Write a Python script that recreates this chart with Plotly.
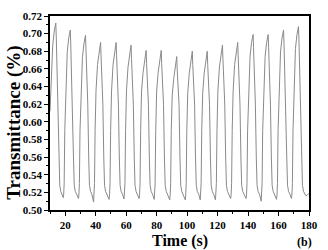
import plotly.graph_objects as go

# Time (s) and transmittance values, one row per cycle
time_s = [
    10.0, 10.5, 11.8, 12.8,
    13.8, 14.1, 15.3, 15.9, 16.4, 17.1, 18.0, 18.7, 19.0, 19.3, 19.7, 20.3, 21.3, 22.3,
    23.3, 23.6, 24.8, 25.4, 25.9, 26.6, 27.5, 28.7, 29.0, 29.3, 29.7, 30.3, 31.3, 32.3,
    33.3, 33.6, 34.8, 35.4, 35.9, 36.6, 37.5, 38.6, 38.9, 39.2, 39.6, 40.2, 41.2, 42.2,
    43.2, 43.5, 44.7, 45.3, 45.8, 46.5, 47.4, 48.8, 49.1, 49.4, 49.8, 50.4, 51.4, 52.4,
    53.4, 53.7, 54.9, 55.5, 56.0, 56.7, 57.6, 58.6, 58.9, 59.2, 59.6, 60.2, 61.2, 62.2,
    63.2, 63.5, 64.7, 65.3, 65.8, 66.5, 67.4, 68.5, 68.8, 69.1, 69.5, 70.1, 71.1, 72.1,
    73.1, 73.4, 74.6, 75.2, 75.7, 76.4, 77.3, 78.4, 78.7, 79.0, 79.4, 80.0, 81.0, 82.0,
    83.0, 83.3, 84.5, 85.1, 85.6, 86.3, 87.2, 88.6, 88.9, 89.2, 89.6, 90.2, 91.2, 92.2,
    93.2, 93.5, 94.7, 95.3, 95.8, 96.5, 97.4, 98.8, 99.1, 99.4, 99.8, 100.4, 101.4, 102.4,
    103.4, 103.7, 104.9, 105.5, 106.0, 106.7, 107.6, 108.6, 108.9, 109.2, 109.6, 110.2, 111.2, 112.2,
    113.2, 113.5, 114.7, 115.3, 115.8, 116.5, 117.4, 118.6, 118.9, 119.2, 119.6, 120.2, 121.2, 122.2,
    123.2, 123.5, 124.7, 125.3, 125.8, 126.5, 127.4, 128.6, 128.9, 129.2, 129.6, 130.2, 131.2, 132.2,
    133.2, 133.5, 134.7, 135.3, 135.8, 136.5, 137.4, 138.7, 139.0, 139.3, 139.7, 140.3, 141.3, 142.3,
    143.3, 143.6, 144.8, 145.4, 145.9, 146.6, 147.5, 148.6, 148.9, 149.2, 149.6, 150.2, 151.2, 152.2,
    153.2, 153.5, 154.7, 155.3, 155.8, 156.5, 157.4, 158.7, 159.0, 159.3, 159.7, 160.3, 161.3, 162.3,
    163.3, 163.6, 164.8, 165.4, 165.9, 166.6, 167.5, 168.5, 168.8, 169.1, 169.5, 170.1, 171.1, 172.1,
    173.1, 173.4, 174.6, 175.2, 175.7, 176.4, 177.3, 178.0, 179.0, 180.0,
]
transmittance = [
    0.612, 0.635, 0.687, 0.703,
    0.712, 0.697, 0.620, 0.560, 0.528, 0.521, 0.518, 0.514, 0.518, 0.530, 0.590, 0.635, 0.679, 0.695,
    0.704, 0.689, 0.620, 0.560, 0.528, 0.521, 0.518, 0.513, 0.518, 0.530, 0.590, 0.635, 0.673, 0.689,
    0.698, 0.683, 0.620, 0.560, 0.528, 0.521, 0.518, 0.509, 0.518, 0.530, 0.590, 0.635, 0.665, 0.681,
    0.690, 0.675, 0.620, 0.560, 0.528, 0.521, 0.518, 0.512, 0.518, 0.530, 0.590, 0.635, 0.665, 0.681,
    0.690, 0.675, 0.620, 0.560, 0.528, 0.521, 0.518, 0.5125, 0.518, 0.530, 0.590, 0.635, 0.662, 0.678,
    0.687, 0.672, 0.620, 0.560, 0.528, 0.521, 0.518, 0.513, 0.518, 0.530, 0.590, 0.635, 0.656, 0.672,
    0.681, 0.666, 0.620, 0.560, 0.528, 0.521, 0.518, 0.512, 0.518, 0.530, 0.590, 0.635, 0.656, 0.672,
    0.681, 0.666, 0.620, 0.560, 0.528, 0.521, 0.518, 0.5115, 0.518, 0.530, 0.590, 0.630, 0.649, 0.665,
    0.674, 0.659, 0.620, 0.560, 0.528, 0.521, 0.518, 0.5115, 0.518, 0.530, 0.590, 0.632, 0.655, 0.671,
    0.680, 0.665, 0.620, 0.560, 0.528, 0.521, 0.518, 0.5115, 0.518, 0.530, 0.590, 0.632, 0.655, 0.671,
    0.680, 0.665, 0.620, 0.560, 0.528, 0.521, 0.518, 0.5115, 0.518, 0.530, 0.590, 0.635, 0.662, 0.678,
    0.687, 0.672, 0.620, 0.560, 0.528, 0.521, 0.518, 0.513, 0.518, 0.530, 0.590, 0.635, 0.665, 0.681,
    0.690, 0.675, 0.620, 0.560, 0.528, 0.521, 0.518, 0.513, 0.518, 0.530, 0.590, 0.635, 0.674, 0.690,
    0.699, 0.684, 0.620, 0.560, 0.528, 0.521, 0.518, 0.510, 0.518, 0.530, 0.590, 0.635, 0.674, 0.690,
    0.699, 0.684, 0.620, 0.560, 0.528, 0.521, 0.518, 0.512, 0.518, 0.530, 0.590, 0.635, 0.679, 0.695,
    0.704, 0.689, 0.620, 0.560, 0.528, 0.521, 0.518, 0.513, 0.518, 0.530, 0.590, 0.635, 0.683, 0.699,
    0.708, 0.693, 0.620, 0.560, 0.528, 0.521, 0.518, 0.516, 0.517, 0.519,
]

x_title = "Time (s)"
y_title = "Transmittance (%)"
panel_label = "(b)"
x_range = [10, 180]
y_range = [0.50, 0.72]

FONT = "Liberation Serif, Times New Roman, serif"

fig = go.Figure()
fig.add_trace(go.Scatter(
    x=time_s, y=transmittance, mode="lines",
    line=dict(color="#8a8a8a", width=1),
    showlegend=False, hoverinfo="skip",
))

axis_common = dict(
    showline=True, linecolor="black", linewidth=1.6, mirror=True,
    showgrid=False, zeroline=False,
    ticks="outside", ticklen=4, tickwidth=1.2, tickcolor="black",
    tickfont=dict(family=FONT, size=11, color="black", weight="bold"),
)

fig.update_xaxes(
    range=x_range, tick0=0, dtick=20,
    minor=dict(dtick=10, ticks="outside", ticklen=2, tickwidth=1, tickcolor="black"),
    **axis_common,
)
fig.update_yaxes(
    range=y_range, tick0=0.5, dtick=0.02, tickformat=".2f",
    minor=dict(dtick=0.01, ticks="outside", ticklen=2, tickwidth=1, tickcolor="black"),
    **axis_common,
)

fig.add_annotation(text=x_title, xref="paper", yref="paper", x=0.5, y=-0.16,
                   showarrow=False, xanchor="center", yanchor="middle",
                   font=dict(family=FONT, size=16, color="black", weight="bold"))
fig.add_annotation(text=y_title, xref="paper", yref="paper", x=-0.139, y=0.45,
                   showarrow=False, xanchor="center", yanchor="middle", textangle=-90,
                   font=dict(family=FONT, size=19, color="black", weight="bold"))
fig.add_annotation(text=panel_label, xref="paper", yref="paper", x=0.981, y=-0.165,
                   showarrow=False, xanchor="center", yanchor="middle",
                   font=dict(family=FONT, size=12, color="black", weight="bold"))

fig.update_layout(
    width=328, height=250,
    margin=dict(l=50, r=12, t=10, b=40),
    paper_bgcolor="white", plot_bgcolor="white",
)

fig.write_html("out.html", config={"displayModeBar": False},
               post_script="document.body.style.margin='0';")
